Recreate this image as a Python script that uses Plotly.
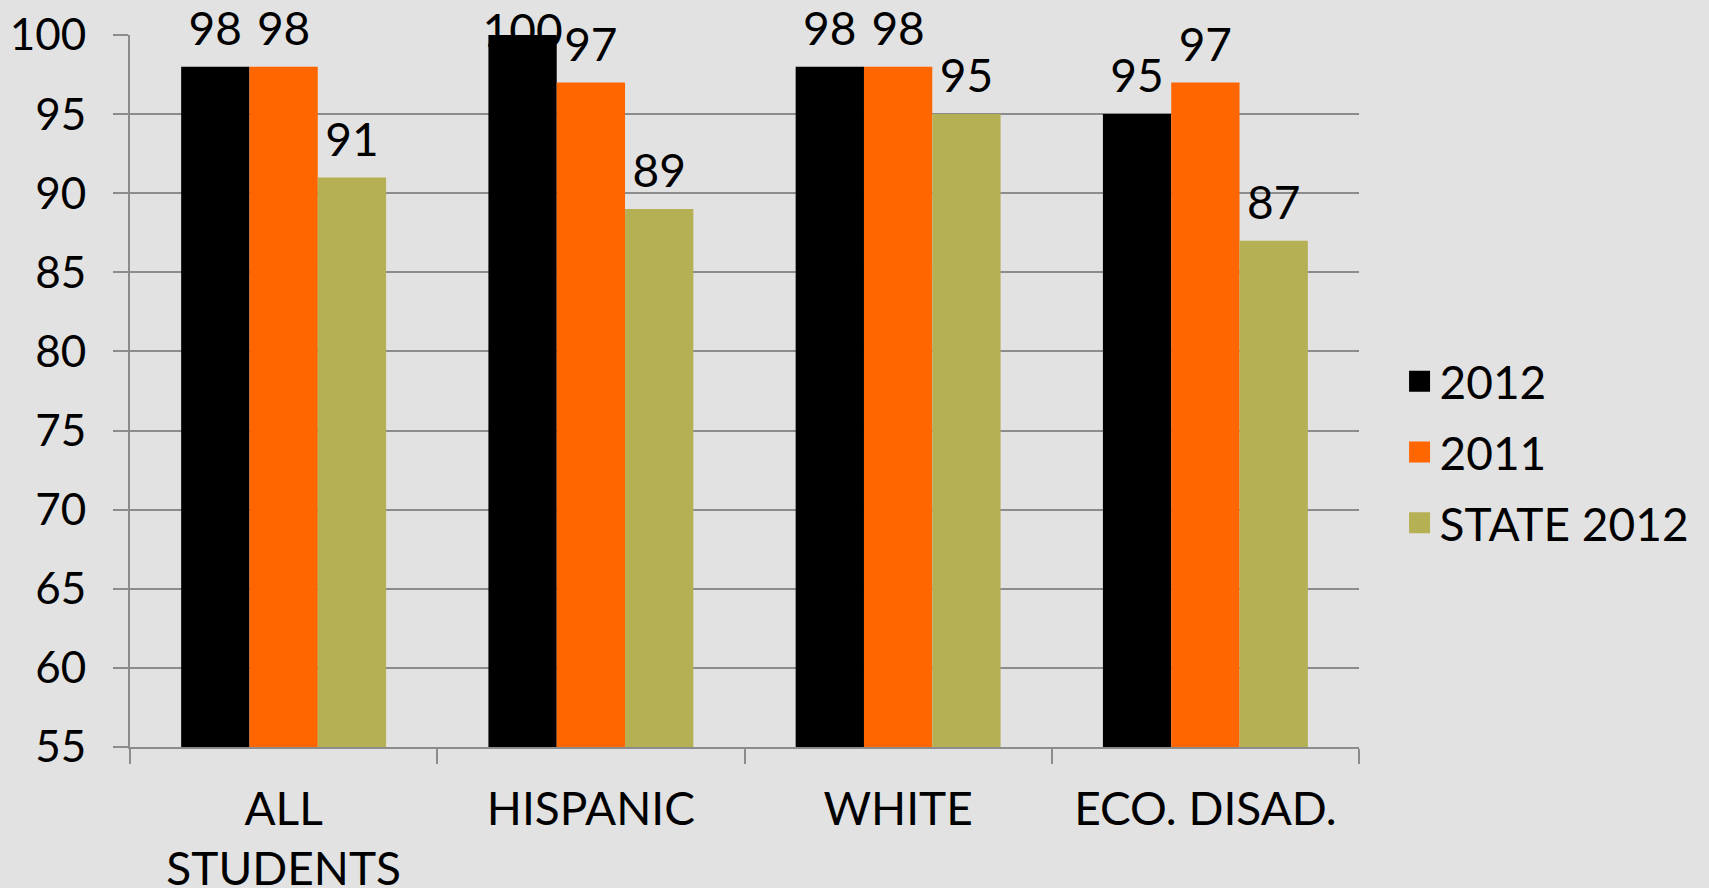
import plotly.graph_objects as go

# ---- data ----
categories = ["ALL<br>STUDENTS", "HISPANIC", "WHITE", "ECO. DISAD."]
series_names = ["2012", "2011", "STATE 2012"]
values_2012 = [98, 100, 98, 95]
values_2011 = [98, 97, 98, 97]
values_state_2012 = [91, 89, 95, 87]
y_tick_values = [55, 60, 65, 70, 75, 80, 85, 90, 95, 100]

# ---- style ----
series_values = [values_2012, values_2011, values_state_2012]
series_colors = ["#000000", "#ff6600", "#b6b055"]
FONT = "Lato"
FS = 46
BG = "#e2e2e2"
GRID = "#8c8c8c"
Y_MIN, Y_MAX = y_tick_values[0], y_tick_values[-1]

fig = go.Figure()

# bars
for i, (name, vals, col) in enumerate(zip(series_names, series_values, series_colors)):
    fig.add_trace(go.Bar(
        name=name,
        x=categories,
        y=vals,
        offsetgroup=str(i),
        marker=dict(color=col, line=dict(width=0)),
        showlegend=False,
        hoverinfo="x+y+name",
    ))

# data labels (grouped scatter text aligned with the bars)
for i, (name, vals) in enumerate(zip(series_names, series_values)):
    # labels that would leave the chart area are pulled inside it (like Excel does)
    positions = ["middle center" if v >= Y_MAX else "top center" for v in vals]
    fig.add_trace(go.Scatter(
        x=categories,
        y=vals,
        offsetgroup=str(i),
        mode="markers+text",
        marker=dict(size=15, color="rgba(0,0,0,0)"),
        text=[str(v) for v in vals],
        textposition=positions,
        textfont=dict(family=FONT, size=FS, color="#000000"),
        cliponaxis=False,
        showlegend=False,
        hoverinfo="skip",
    ))

# legend entries (square swatches)
for i, (name, col) in enumerate(zip(series_names, series_colors)):
    fig.add_trace(go.Scatter(
        name=name,
        x=[None],
        y=[None],
        offsetgroup=str(i),
        mode="markers",
        marker=dict(symbol="square", size=16, color=col, line=dict(color=col, width=5)),
        legendgroup=name,
        showlegend=True,
    ))

fig.update_layout(
    width=1709,
    height=888,
    barmode="group",
    bargap=0.333,
    bargroupgap=0,
    scattermode="group",
    scattergap=0.333,
    paper_bgcolor=BG,
    plot_bgcolor=BG,
    font=dict(family=FONT, size=FS, color="#000000"),
    margin=dict(l=130, r=350, t=35, b=141, pad=0),
    legend=dict(
        x=1.033, xanchor="left",
        y=0.414, yanchor="middle",
        font=dict(family=FONT, size=FS, color="#000000"),
        traceorder="grouped",
        tracegroupgap=8,
        bgcolor="rgba(0,0,0,0)",
    ),
    xaxis=dict(
        showline=True, linecolor=GRID, linewidth=2,
        ticks="outside", ticklen=15, tickwidth=2, tickcolor=GRID,
        tickson="boundaries",
        showgrid=False,
        tickfont=dict(family=FONT, size=FS, color="#000000"),
        automargin=False,
        ticklabelstandoff=21,
    ),
    yaxis=dict(
        range=[Y_MIN, Y_MAX],
        tickvals=y_tick_values,
        showgrid=True, gridcolor=GRID, gridwidth=2,
        showline=True, linecolor=GRID, linewidth=2,
        ticks="outside", ticklen=15, tickwidth=2, tickcolor=GRID,
        zeroline=False,
        tickfont=dict(family=FONT, size=44, color="#000000"),
        automargin=False,
        ticklabelstandoff=18,
    ),
)

fig.write_html(
    "out.html",
    config={"displayModeBar": False},
    post_script="document.body.style.margin='0';",
)
